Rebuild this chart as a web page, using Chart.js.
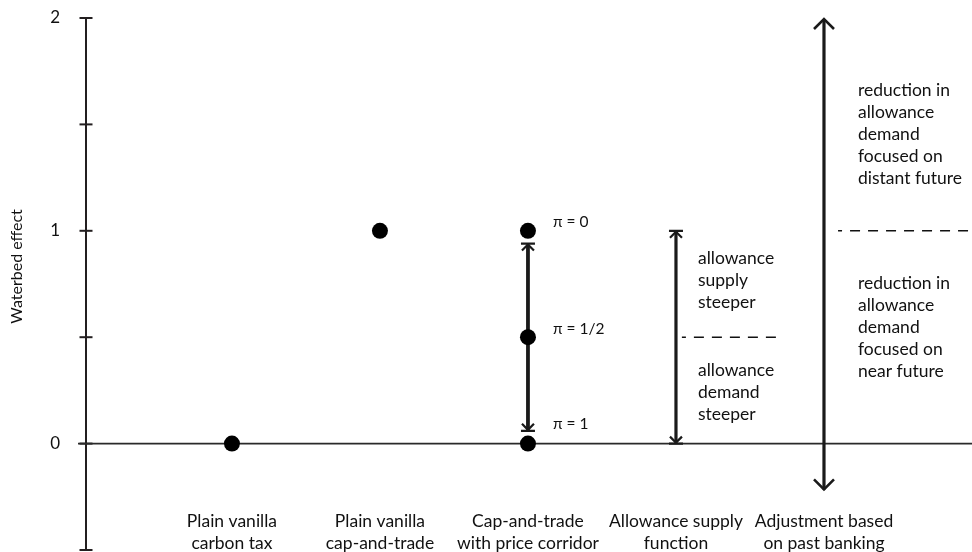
<!DOCTYPE html>
<html>
<head>
<meta charset="utf-8">
<script src="https://cdn.jsdelivr.net/npm/chart.js@4.4.1/dist/chart.umd.min.js"></script>
<style>
html,body{margin:0;padding:0;background:#fff;}
#wrap{width:972px;height:552px;position:relative;}
</style>
</head>
<body>
<div id="wrap"><canvas id="c" width="972" height="552"></canvas></div>
<script>
// ---- data ----
const categories = [
  ["Plain vanilla", "carbon tax"],
  ["Plain vanilla", "cap-and-trade"],
  ["Cap-and-trade", "with price corridor"],
  ["Allowance supply", "function"],
  ["Adjustment based", "on past banking"]
];
const pointX = [0, 1, 2, 2, 2];
const pointY = [0, 1, 0, 0.5, 1];
const piLabels = ["\u03C0 = 0", "\u03C0 = 1/2", "\u03C0 = 1"];
const piLabelY = [1.04, 0.54, 0.09];
const arrowX = [2, 3, 4];
const arrowFrom = [0.06, 0, -0.22];
const arrowTo = [0.94, 1, 2];
const arrowBarred = [true, true, false];
const dashY = [0.5, 1];
const dashFrom = [3.04, 4.095];
const dashTo = [3.72, 5];
const noteX = [3, 3, 4, 4];
const noteTopY = [0.87, 0.344, 1.66, 0.755];
const noteLines = [
  ["allowance", "supply", "steeper"],
  ["allowance", "demand", "steeper"],
  ["reduction in", "allowance", "demand", "focused on", "distant future"],
  ["reduction in", "allowance", "demand", "focused on", "near future"]
];
const yTickValues = [-0.5, 0, 0.5, 1, 1.5, 2];
const yTickLabels = {"0": "0", "1": "1", "2": "2"};
const yTitle = "Waterbed effect";

// ---- styles ----
const FONT = "Lato, 'Open Sans', sans-serif";
const INK = "#231f20";

const overlay = {
  id: "overlay",
  afterDraw(chart) {
    const ctx = chart.ctx;
    const xs = chart.scales.x, ys = chart.scales.y;
    const area = chart.chartArea;
    const X = v => xs.getPixelForValue(v);
    const Y = v => ys.getPixelForValue(v);
    ctx.save();
    // tick marks crossing the axis
    ctx.strokeStyle = INK; ctx.lineWidth = 2;
    yTickValues.forEach(v => {
      ctx.beginPath(); ctx.moveTo(area.left - 6.5, Y(v)); ctx.lineTo(area.left + 6.5, Y(v)); ctx.stroke();
    });
    // zero line
    ctx.strokeStyle = "#2a2a2a"; ctx.lineWidth = 1.7;
    ctx.beginPath(); ctx.moveTo(area.left - 8, Y(0)); ctx.lineTo(area.right, Y(0)); ctx.stroke();
    // dashed lines
    ctx.setLineDash([10, 8]); ctx.lineDashOffset = 6; ctx.lineWidth = 1.5; ctx.strokeStyle = "#111";
    dashY.forEach((d, i) => {
      ctx.beginPath(); ctx.moveTo(X(dashFrom[i]), Y(d)); ctx.lineTo(X(dashTo[i]), Y(d)); ctx.stroke();
    });
    ctx.setLineDash([]);
    // arrows
    arrowX.forEach((ax, i) => {
      const x = X(ax), y1 = Y(arrowTo[i]), y0 = Y(arrowFrom[i]);
      const barred = arrowBarred[i];
      const lw = i === 0 ? 3.8 : 3.2;
      const hw = barred ? 6 : 10, hh = barred ? 7 : 11;
      ctx.strokeStyle = "#1a1a1a"; ctx.lineWidth = lw; ctx.lineCap = "butt";
      ctx.beginPath(); ctx.moveTo(x, y1 + 1); ctx.lineTo(x, y0 - 1); ctx.stroke();
      ctx.lineWidth = barred ? 2.2 : 2.6;
      ctx.beginPath();
      ctx.moveTo(x - hw, y1 + hh); ctx.lineTo(x, y1 + 1); ctx.lineTo(x + hw, y1 + hh);
      ctx.moveTo(x - hw, y0 - hh); ctx.lineTo(x, y0 - 1); ctx.lineTo(x + hw, y0 - hh);
      ctx.stroke();
      if (barred) {
        ctx.lineWidth = 2.2;
        ctx.beginPath();
        ctx.moveTo(x - 7, y1); ctx.lineTo(x + 7, y1);
        ctx.moveTo(x - 7, y0); ctx.lineTo(x + 7, y0);
        ctx.stroke();
      }
    });
    // points on top
    ctx.fillStyle = "#000";
    pointX.forEach((px, i) => {
      ctx.beginPath(); ctx.arc(X(px), Y(pointY[i]), 8, 0, Math.PI * 2); ctx.fill();
    });
    // text
    ctx.fillStyle = "#111"; ctx.textBaseline = "middle"; ctx.textAlign = "left";
    ctx.font = "15.5px " + FONT;
    piLabels.forEach((t, i) => ctx.fillText(t, X(2) + 25, Y(piLabelY[i])));
    ctx.font = "17.5px " + FONT;
    noteLines.forEach((lines, i) => {
      const x = X(noteX[i]) + (noteX[i] === 3 ? 22 : 34);
      const y = Y(noteTopY[i]);
      lines.forEach((l, k) => ctx.fillText(l, x, y + k * 22));
    });
    // category labels
    ctx.textAlign = "center";
    categories.forEach((c, i) => {
      c.forEach((l, k) => ctx.fillText(l, X(i), Y(-0.364) + k * 22));
    });
    // y title
    ctx.font = "16px " + FONT;
    ctx.translate(17, 266.5); ctx.rotate(-Math.PI / 2);
    ctx.textAlign = "center"; ctx.fillText(yTitle, 0, 0);
    ctx.restore();
  }
};

new Chart(document.getElementById("c"), {
  type: "scatter",
  data: {
    datasets: [{
      data: pointX.map((x, i) => ({x, y: pointY[i]})),
      pointRadius: 0, showLine: false
    }]
  },
  options: {
    responsive: false, animation: false,
    layout: {padding: {top: 18, bottom: 2, left: 0, right: 0}},
    plugins: {legend: {display: false}, tooltip: {enabled: false}},
    scales: {
      x: {type: "linear", min: -0.986, max: 5, display: false},
      y: {
        type: "linear", min: -0.5, max: 2,
        afterFit: s => { s.width = 86; },
        afterBuildTicks: s => { s.ticks = yTickValues.map(v => ({value: v})); },
        ticks: {
          padding: 0, color: "#111", font: {family: FONT, size: 17, lineHeight: 0.1},
          callback: v => yTickLabels[String(v)] || ""
        },
        grid: {drawOnChartArea: false, drawTicks: true, tickLength: 26, tickColor: "rgba(0,0,0,0)"},
        border: {display: true, color: INK, width: 2}
      }
    }
  },
  plugins: [overlay]
});
</script>
</body>
</html>
